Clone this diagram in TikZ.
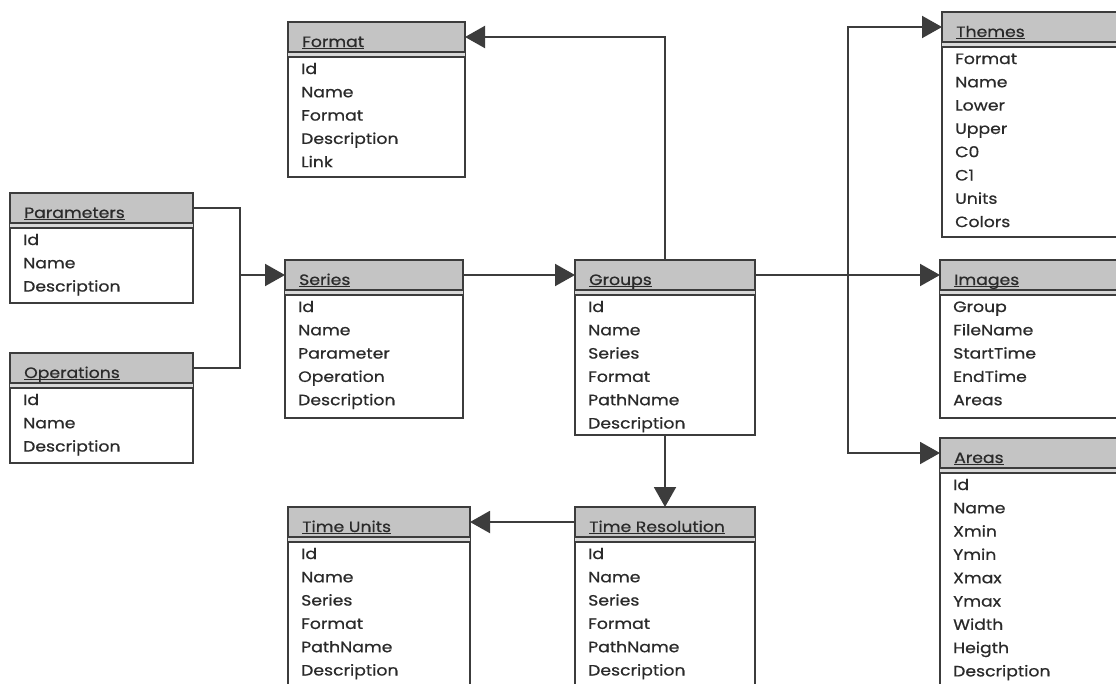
\documentclass[tikz,border=0pt]{standalone}
\usepackage{fontspec}
\setmainfont{Poppins}[FakeStretch=1.15,FakeBold=0.6]
\usetikzlibrary{arrows.meta}
\definecolor{hdrgray}{HTML}{C4C4C4}
\definecolor{bandgray}{HTML}{D8D8D8}
\definecolor{linegray}{HTML}{3C3C3C}
\definecolor{txt}{HTML}{2A2A2A}
\newcommand\tblul[1]{{\setbox0\hbox{#1}\rlap{\rule[-2pt]{\wd0}{0.9pt}}\box0}}
\tikzset{
  tbox/.style={draw=linegray, line width=1.5pt, inner sep=0pt, outer sep=0pt},
  hdr/.style={tbox, fill=hdrgray, minimum height=30pt},
  tbody/.style={tbox, fill=white},
  ttitle/.style={font=\fontsize{15}{18}\selectfont, text=txt, inner sep=0pt, anchor=base west},
  tfield/.style={font=\fontsize{15}{18}\selectfont, text=txt, inner sep=0pt, anchor=base west},
  conn/.style={draw=linegray, line width=2pt},
  arr/.style={conn, -{Triangle[length=20pt,width=22pt]}},
}
% name, x, y, width, height, title, fields
\newcommand\dbtable[7]{%
  \node[tbody, minimum width=#4pt, minimum height={#5pt-30pt}, anchor=north west] (#1-b) at (#2,#3+30) {};
  \fill[bandgray] (#2,#3+30) rectangle (#2+#4,#3+35);
  \draw[linegray, line width=1.2pt] (#2,#3+35) -- (#2+#4,#3+35);
  \node[hdr, minimum width=#4pt, anchor=north west] (#1) at (#2,#3) {};
  \node[ttitle] (#1-t) at (#2+14,#3+25) {\tblul{#6}};
  \foreach \f [count=\i] in {#7} {\node[tfield] (#1-\i) at ({#2+13},{#3+52+23.3*(\i-1)}) {\f};}
}
\begin{document}
\begin{tikzpicture}[x=1pt, y=-1pt]
\useasboundingbox (0,0) rectangle (1116,683);
\clip (0,0) rectangle (1116,683);
\fill[white] (0,0) rectangle (1116,683);

\dbtable{format}{288}{22}{177}{155}{Format}{Id,Name,Format,Description,Link}
\dbtable{params}{10}{193}{183}{110}{Parameters}{Id,Name,Description}
\dbtable{ops}{10}{353}{183}{110}{Operations}{Id,Name,Description}
\dbtable{series}{285}{260}{178}{158}{Series}{Id,Name,Parameter,Operation,Description}
\dbtable{groups}{575}{260}{180}{175}{Groups}{Id,Name,Series,Format,PathName,Description}
\dbtable{timeunits}{288}{507}{182}{200}{Time Units}{Id,Name,Series,Format,PathName,Description}
\dbtable{timeres}{575}{507}{180}{200}{Time Resolution}{Id,Name,Series,Format,PathName,Description}
\dbtable{themes}{942}{12}{200}{225}{Themes}{Format,Name,Lower,Upper,C0,C1,Units,Colors}
\dbtable{images}{940}{260}{200}{158}{Images}{Group,FileName,StartTime,EndTime,Areas}
\dbtable{areas}{940}{438}{200}{260}{Areas}{Id,Name,Xmin,Ymin,Xmax,Ymax,Width,Heigth,Description}

\coordinate (lj) at (240,278);
\coordinate (rj) at (848,277);
\draw[conn] (params.east) -- (params.east -| lj) |- (ops.east);
\draw[arr] (lj |- series.west) -- (series.west);
\draw[arr] (series.east) -- (groups.west);
\draw[arr] (groups.north) |- (format.east);
\draw[arr] (groups-b.south) -- (timeres.north);
\draw[arr] (timeres.west) -- (timeunits.east);
\draw[arr] (groups.east) -- (images.west);
\draw[arr] (groups.east -| rj) |- (themes.west);
\draw[arr] (groups.east -| rj) |- (areas.west);
\end{tikzpicture}
\end{document}
